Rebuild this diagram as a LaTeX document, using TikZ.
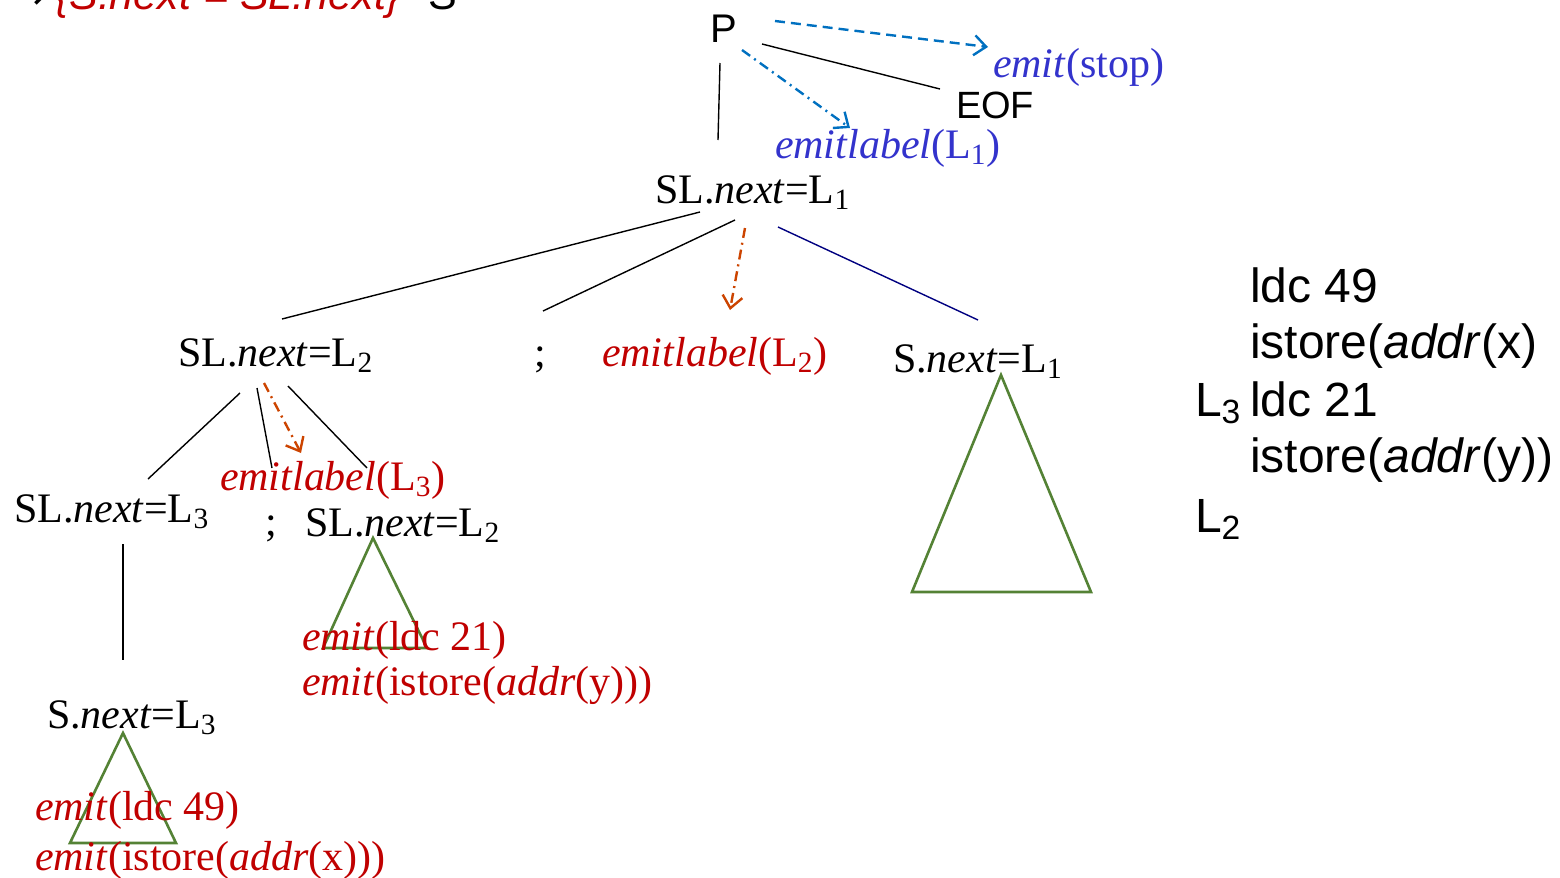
\documentclass[tikz,border=0pt]{standalone}
\usepackage{fontspec}
\setmainfont{Liberation Serif}
\setsansfont{Liberation Sans}
\newfontfamily\arrowfont{DejaVu Sans}
\usetikzlibrary{arrows.meta}
\definecolor{tred}{RGB}{192,0,0}
\definecolor{tblue}{RGB}{51,51,204}
\definecolor{ablue}{RGB}{0,112,192}
\definecolor{aorange}{RGB}{204,68,0}
\definecolor{tgreen}{RGB}{84,130,53}
\definecolor{navyline}{RGB}{0,0,128}
\begin{document}
\begin{tikzpicture}[x=0.5pt,y=-0.5pt,
 lbl/.style={anchor=base west, inner sep=0pt, outer sep=0pt, font=\fontsize{21}{25}\selectfont},
 sans/.style={anchor=base west, inner sep=0pt, outer sep=0pt, font=\sffamily\fontsize{20}{24}\selectfont},
 hdr/.style={anchor=base west, inner sep=0pt, outer sep=0pt, font=\sffamily\fontsize{21.5}{26}\selectfont},
 code/.style={anchor=base west, inner sep=0pt, outer sep=0pt, font=\sffamily\fontsize{24}{28}\selectfont},
 edge/.style={line width=0.7pt, draw=black},
 tri/.style={draw=tgreen, line width=1.3pt, line join=miter},
 bluedash/.style={draw=ablue, line width=1.2pt, dash pattern=on 5pt off 3pt, -{Straight Barb[length=6pt,width=10pt]}},
 bluedot/.style={draw=ablue, line width=1.2pt, dash pattern=on 5pt off 2.5pt on 1pt off 2.5pt, -{Straight Barb[length=6pt,width=10pt]}},
 orangedot/.style={draw=aorange, line width=1.2pt, dash pattern=on 5pt off 2.5pt on 1pt off 2.5pt, -{Straight Barb[length=6pt,width=10pt]}}
]
\useasboundingbox (0,0) rectangle (1560,878);
% clipped header
\node[hdr, anchor=base east] (hdrA) at (48,10) {\arrowfont →};
\node[hdr, text=tred] (hdrB) at (55,10) {\textit{\{S.next = SL.next\}}};
\node[hdr] (hdrC) at (428,10) {S};
% nodes
\node[sans] (P) at (710,42) {P};
\node[sans, font=\sffamily\fontsize{19}{23}\selectfont] (EOF) at (956,118) {EOF};
\node[lbl, text=tblue] (estop) at (993,77) {\textit{emit}(stop)};
\node[lbl, text=tblue] (elab1) at (775,158) {\textit{emitlabel}(L\textsubscript{1})};
\node[lbl] (SL1) at (655,203) {SL.\textit{next}=L\textsubscript{1}};
\node[lbl] (SL2) at (178,366) {SL.\textit{next}=L\textsubscript{2}};
\node[lbl] (semi1) at (534,366) {;};
\node[lbl, text=tred] (elab2) at (602,366) {\textit{emitlabel}(L\textsubscript{2})};
\node[lbl] (S1) at (893,372) {S.\textit{next}=L\textsubscript{1}};
\node[lbl, text=tred] (elab3) at (220,490) {\textit{emitlabel}(L\textsubscript{3})};
\node[lbl] (SL3) at (14,522) {SL.\textit{next}=L\textsubscript{3}};
\node[lbl] (semi2) at (265,535) {;};
\node[lbl] (SL2b) at (305,536) {SL.\textit{next}=L\textsubscript{2}};
\node[lbl] (S3) at (47,728) {S.\textit{next}=L\textsubscript{3}};
% triangles
\coordinate (t1a) at (1001,375); \coordinate (t1b) at (912,592); \coordinate (t1c) at (1091,592);
\coordinate (t2a) at (373,538); \coordinate (t2b) at (323,648); \coordinate (t2c) at (427,648);
\coordinate (t3a) at (123,733); \coordinate (t3b) at (70,843); \coordinate (t3c) at (176,843);
\draw[tri] (t1a) -- (t1b) -- (t1c) -- cycle;
\draw[tri] (t2a) -- (t2b) -- (t2c) -- cycle;
\draw[tri] (t3a) -- (t3b) -- (t3c) -- cycle;
\node[lbl, text=tred] (e21) at (302,650) {\textit{emit}(ldc 21)};
\node[lbl, text=tred] (ey) at (302,695) {\textit{emit}(istore(\textit{addr}(y)))};
\node[lbl, text=tred] (e49) at (35,820) {\textit{emit}(ldc 49)};
\node[lbl, text=tred] (ex) at (35,870) {\textit{emit}(istore(\textit{addr}(x)))};
% code column
\node[code] (c1) at (1250,302) {ldc 49};
\node[code] (c2) at (1250,358) {istore(\textit{addr}(x)};
\node[code] (c3l) at (1195,416) {L\textsubscript{3}};
\node[code] (c3) at (1250,416) {ldc 21};
\node[code] (c4) at (1250,472) {istore(\textit{addr}(y))};
\node[code] (c5) at (1195,532) {L\textsubscript{2}};
% edge endpoints
\coordinate (Pd) at (720,63); \coordinate (SL1u) at (718,140);
\coordinate (Pr) at (762,44); \coordinate (EOFu) at (940,89);
\coordinate (SL1a) at (700,212); \coordinate (SL2u) at (282,319);
\coordinate (SL1b) at (735,220); \coordinate (semi1u) at (543,311);
\coordinate (SL1c) at (778,227); \coordinate (S1u) at (978,320);
\coordinate (SL2a) at (240,393); \coordinate (SL3u) at (148,479);
\coordinate (SL2b0) at (257,388); \coordinate (semi2u) at (272,468);
\coordinate (SL2c) at (288,386); \coordinate (SL2bu) at (367,468);
\coordinate (SL3d) at (123,544); \coordinate (S3u) at (123,660);
\draw[edge] (Pd) -- (SL1u);
\draw[edge] (Pr) -- (EOFu);
\draw[edge] (SL1a) -- (SL2u);
\draw[edge] (SL1b) -- (semi1u);
\draw[edge, draw=navyline] (SL1c) -- (S1u);
\draw[edge] (SL2a) -- (SL3u);
\draw[edge] (SL2b0) -- (semi2u);
\draw[edge] (SL2c) -- (SL2bu);
\draw[edge] (SL3d) -- (S3u);
% action arrows
\coordinate (Pa1) at (775,21); \coordinate (estopt) at (988,47);
\coordinate (Pa2) at (742,50); \coordinate (elab1t) at (850,128);
\coordinate (SL1o) at (745,228); \coordinate (elab2t) at (730,310);
\coordinate (SL2o) at (264,383); \coordinate (elab3t) at (301,453);
\draw[bluedash] (Pa1) -- (estopt);
\draw[bluedot] (Pa2) -- (elab1t);
\draw[orangedot] (SL1o) -- (elab2t);
\draw[orangedot] (SL2o) -- (elab3t);
\end{tikzpicture}
\end{document}
